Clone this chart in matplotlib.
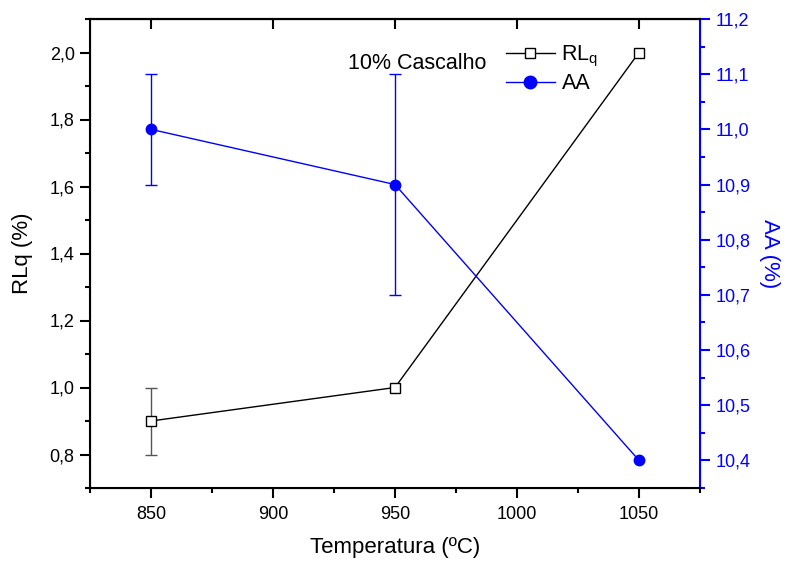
import matplotlib.pyplot as plt
import numpy as np
from matplotlib.ticker import MultipleLocator, FuncFormatter
from matplotlib.lines import Line2D

plt.rcParams['font.family'] = ['Liberation Sans', 'DejaVu Sans']

temperatura = np.array([850, 950, 1050])
rlq = np.array([0.9, 1.0, 2.0])
rlq_err = np.array([0.1, 0.0, 0.0])
aa = np.array([11.0, 10.9, 10.4])
aa_err = np.array([0.1, 0.2, 0.0])

virgula = FuncFormatter(lambda v, p: ('%.1f' % v).replace('.', ','))

fig = plt.figure(figsize=(7.89, 5.62), dpi=100)
ax = fig.add_axes([90/789, 74/562, 610/789, 469/562])
ax2 = ax.twinx()

# barras de erro (so onde existe erro)
m1 = rlq_err > 0
ax.errorbar(temperatura[m1], rlq[m1], yerr=rlq_err[m1], fmt='none', ecolor='#555555',
            elinewidth=1, capsize=4, capthick=1)
m2 = aa_err > 0
ax2.errorbar(temperatura[m2], aa[m2], yerr=aa_err[m2], fmt='none', ecolor='blue',
             elinewidth=1, capsize=4, capthick=1)

ax.plot(temperatura, rlq, color='black', lw=1, marker='s', ms=7,
        mfc='white', mec='black', mew=1, zorder=3)
ax2.plot(temperatura, aa, color='blue', lw=1, marker='o', ms=7.5, zorder=3)

ax.set_xlim(825, 1075)
ax.set_ylim(0.7, 2.1)
ax2.set_ylim(10.35, 11.2)

ax.xaxis.set_major_locator(MultipleLocator(50))
ax.xaxis.set_minor_locator(MultipleLocator(25))
ax.yaxis.set_major_locator(MultipleLocator(0.2))
ax.yaxis.set_minor_locator(MultipleLocator(0.1))
ax2.yaxis.set_major_locator(MultipleLocator(0.1))
ax2.yaxis.set_minor_locator(MultipleLocator(0.05))
ax.yaxis.set_major_formatter(virgula)
ax2.yaxis.set_major_formatter(virgula)

ax.tick_params(axis='both', which='major', direction='out', length=7, width=1.5, labelsize=13)
ax.tick_params(axis='both', which='minor', direction='out', length=3.6, width=1.5)
ax.tick_params(axis='x', which='major', pad=6)
ax.tick_params(axis='y', which='major', pad=4)
ax2.tick_params(axis='y', which='major', direction='out', length=7, width=1.5,
                colors='blue', labelsize=13, pad=4)
ax2.tick_params(axis='y', which='minor', direction='out', length=3.6, width=1.5, colors='blue')

for s in ['left', 'bottom', 'top']:
    ax2.spines[s].set_linewidth(1.5)
ax2.spines['right'].set_color('blue')
ax2.spines['right'].set_linewidth(1.5)

# ticks do topo para dentro
sec = ax.secondary_xaxis('top')
sec.xaxis.set_major_locator(MultipleLocator(50))
sec.tick_params(direction='in', length=7, width=1.5, labeltop=False)
sec.spines['top'].set_linewidth(1.5)

ax.set_xlabel('Temperatura (ºC)', fontsize=16, labelpad=10)
ax.set_ylabel('RLq (%)', fontsize=16, labelpad=12)
ax2.set_ylabel('AA (%)', fontsize=16, color='blue', labelpad=6, rotation=270, va='bottom')

ax.text(0.536, 0.906, '10% Cascalho', transform=ax.transAxes, fontsize=15.5,
        ha='center', va='center')
h1 = Line2D([], [], color='black', lw=1, marker='s', ms=7, mfc='white', mec='black')
h2 = Line2D([], [], color='blue', lw=1, marker='o', ms=9)
ax.legend([h1, h2], ['RL$_\\mathregular{q}$', 'AA'], loc='upper left',
          bbox_to_anchor=(0.66, 0.975), frameon=False, fontsize=15.5,
          handlelength=2.3, handletextpad=0.3, labelspacing=0.2, borderaxespad=0.2)

fig.savefig('out.png', dpi=100)
